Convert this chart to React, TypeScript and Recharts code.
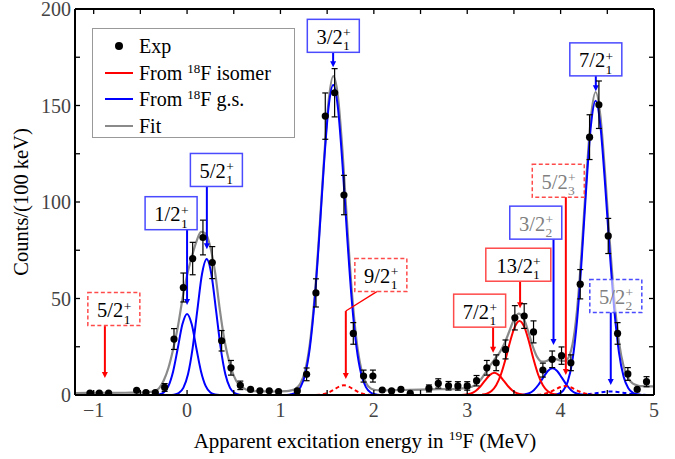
import React from 'react'
import {
  ComposedChart,
  Line,
  Scatter,
  XAxis,
  YAxis,
  ErrorBar,
  ReferenceLine,
  ReferenceDot,
} from 'recharts'

const FONT = '"Liberation Serif", "Times New Roman", serif'

// measured spectrum (energy in MeV, counts per 100 keV, statistical error)
const expEnergy = [
  -1.04, -0.94, -0.84, -0.54, -0.44, -0.34, -0.24, -0.14, -0.04, 0.06, 0.17, 0.27, 0.37, 0.47,
  0.57, 0.68, 0.78, 0.88, 0.98, 1.18, 1.28, 1.38, 1.48, 1.58, 1.68, 1.78, 1.89, 1.99, 2.09, 2.19,
  2.29, 2.39, 2.59, 2.69, 2.8, 2.9, 3.0, 3.1, 3.21, 3.31, 3.41, 3.51, 3.61, 3.71, 3.81, 3.91,
  4.01, 4.11, 4.21, 4.31, 4.41, 4.51, 4.61, 4.72, 4.82, 4.92,
]
const expCounts = [
  1, 1, 1, 2.4, 1.3, 1.3, 3.9, 29, 55.7, 70.7, 81.6, 68.6, 28.1, 14.1, 5, 2.9, 2.2, 2.2, 1.7, 2.1,
  10.7, 52.9, 144.5, 156.6, 103.6, 31.9, 9.8, 9.8, 2.6, 2.1, 2.9, 0.9, 3.4, 6, 4.8, 4.7, 4.7, 7.4,
  14.1, 16.7, 23.6, 40, 40.9, 32.7, 12.9, 18.5, 20.4, 16.7, 57.4, 133.6, 150.4, 82.4, 31.9, 10.9,
  2.9, 6.9,
]
const expErr = [
  0, 0, 0, 0, 0, 0, 2, 5.4, 7.5, 8.4, 9, 8.3, 5.3, 3.8, 2.2, 0, 0, 0, 0, 0, 3.3, 7.3, 12, 12.5,
  10.2, 5.6, 3.1, 3.1, 0, 0, 0, 0, 1.8, 2.4, 2.2, 2.2, 2.2, 2.7, 3.8, 4.1, 4.9, 6.3, 6.4, 5.7, 3.6,
  4.3, 4.5, 4.1, 7.6, 11.6, 12.3, 9.1, 5.6, 3.3, 0, 2.6,
]

// total fit (grey)
const fitCurve = [
  [-1.2, 1.0], [-0.9, 1.1], [-0.6, 1.2], [-0.45, 1.4], [-0.4, 1.6], [-0.35, 2.1], [-0.3, 3.5],
  [-0.25, 7.5], [-0.2, 14], [-0.15, 23.5], [-0.1, 35], [-0.05, 49.5], [0, 62], [0.05, 71.5],
  [0.1, 79.5], [0.15, 84.5], [0.2, 83.6], [0.25, 76.5], [0.3, 63.5], [0.35, 44.5], [0.4, 28.5],
  [0.45, 17.5], [0.5, 10], [0.55, 5.5], [0.6, 3.7], [0.65, 2.5], [0.7, 2.0], [0.9, 1.8],
  [1.065, 2.0], [1.115, 2.4], [1.165, 3.3], [1.215, 6.1], [1.265, 12.8], [1.315, 26.6],
  [1.365, 50.3], [1.415, 83.7], [1.465, 121], [1.515, 152], [1.565, 165.2], [1.615, 155],
  [1.665, 126], [1.715, 88], [1.765, 53.3], [1.815, 28.2], [1.865, 13.5], [1.915, 6.3],
  [1.965, 3.4], [2.015, 2.6], [2.065, 2.4], [2.3, 2.6], [2.5, 2.8], [2.7, 3.0], [2.9, 3.2],
  [2.95, 3.4], [3.0, 3.7], [3.05, 4.3], [3.1, 5.7], [3.15, 8.3], [3.2, 11.9], [3.25, 15.6],
  [3.3, 18.9], [3.35, 22.2], [3.4, 26.8], [3.45, 32.9], [3.5, 39.1], [3.55, 42.2], [3.6, 40.1],
  [3.65, 33.5], [3.7, 25.5], [3.75, 19.6], [3.8, 17.3], [3.85, 17.6], [3.9, 18.7], [3.95, 18.6],
  [4.0, 17.8], [4.05, 17.7], [4.1, 21.2], [4.15, 33], [4.175, 43.6], [4.225, 74.4], [4.275, 112],
  [4.325, 144], [4.375, 157], [4.425, 145], [4.475, 115.4], [4.525, 80.6], [4.575, 49.6],
  [4.625, 27.5], [4.675, 14.8], [4.725, 8.5], [4.775, 5.9], [4.825, 4.9], [4.875, 4.55],
  [4.925, 4.5], [5.0, 4.5],
]

// components populated from the 18F ground state (blue)
const gs12 = [
  [-0.35, 0.05], [-0.3, 0.3], [-0.25, 1.3], [-0.2, 4.6], [-0.15, 12.1], [-0.1, 24.1], [-0.05, 36.6],
  [0, 42], [0.05, 36.6], [0.1, 24.1], [0.15, 12.1], [0.2, 4.6], [0.25, 1.3], [0.3, 0.3], [0.35, 0.05],
]
const gs52 = [
  [-0.19, 0], [-0.14, 0.2], [-0.09, 1.0], [-0.04, 3.7], [0.01, 10.7], [0.06, 24.4], [0.11, 44],
  [0.16, 62.7], [0.21, 70.5], [0.26, 62.7], [0.31, 44], [0.36, 24.4], [0.41, 10.7], [0.46, 3.7],
  [0.51, 1.0], [0.56, 0.2], [0.61, 0],
]
const gs32 = [
  [1.065, 0], [1.115, 0.4], [1.165, 1.3], [1.215, 4.1], [1.265, 10.8], [1.315, 24.6], [1.365, 48.3],
  [1.415, 81.7], [1.465, 119], [1.515, 149], [1.565, 160.6], [1.615, 149], [1.665, 119],
  [1.715, 81.7], [1.765, 48.3], [1.815, 24.6], [1.865, 10.8], [1.915, 4.1], [1.965, 1.3],
  [2.015, 0.4], [2.065, 0],
]
const gs32b = [
  [3.563, 0.1], [3.613, 0.3], [3.663, 0.9], [3.713, 2.5], [3.763, 5.3], [3.813, 9.0], [3.863, 12.4],
  [3.913, 13.8], [3.963, 12.4], [4.013, 9.0], [4.063, 5.3], [4.113, 2.5], [4.163, 0.9],
  [4.213, 0.3], [4.263, 0.1],
]
const gs72 = [
  [3.925, 0.1], [3.975, 0.6], [4.025, 2.2], [4.075, 6.7], [4.125, 17.4], [4.175, 38],
  [4.225, 69.8], [4.275, 107.8], [4.325, 139.8], [4.375, 152.5], [4.425, 140], [4.475, 110],
  [4.525, 75], [4.575, 44], [4.625, 22], [4.675, 9.5], [4.725, 3.5], [4.775, 1.1], [4.825, 0.3],
  [4.875, 0],
]
const gs52b = [
  [4.14, 0], [4.19, 0.08], [4.24, 0.18], [4.29, 0.37], [4.34, 0.65], [4.39, 1.0], [4.44, 1.4],
  [4.49, 1.69], [4.54, 1.8], [4.59, 1.69], [4.64, 1.4], [4.69, 1.0], [4.74, 0.65], [4.79, 0.37],
  [4.84, 0.18], [4.89, 0.08], [4.94, 0],
]

// components populated from the 18F isomer (red)
const iso92 = [
  [1.38, 0.05], [1.43, 0.2], [1.48, 0.7], [1.53, 1.6], [1.58, 3.0], [1.63, 4.4], [1.68, 5],
  [1.73, 4.4], [1.78, 3.0], [1.83, 1.6], [1.88, 0.7], [1.93, 0.2], [1.98, 0.05],
]
const iso72 = [
  [2.94, 0.06], [2.99, 0.24], [3.04, 0.8], [3.09, 2.1], [3.14, 4.4], [3.19, 7.5], [3.24, 10.3],
  [3.29, 11.5], [3.34, 10.3], [3.39, 7.5], [3.44, 4.4], [3.49, 2.1], [3.54, 0.8], [3.59, 0.24],
  [3.64, 0.06],
]
const iso132 = [
  [3.16, 0.2], [3.21, 0.7], [3.26, 2.1], [3.31, 5.1], [3.36, 10.5], [3.41, 18.5], [3.46, 27.8],
  [3.51, 35.4], [3.56, 38.4], [3.61, 35.4], [3.66, 27.8], [3.71, 18.5], [3.76, 10.5], [3.81, 5.1],
  [3.86, 2.1], [3.91, 0.7], [3.96, 0.2],
]
const iso52 = [
  [3.75, 0.1], [3.8, 0.35], [3.85, 0.9], [3.9, 1.8], [3.95, 3.05], [4.0, 4.15], [4.05, 4.6],
  [4.1, 4.15], [4.15, 3.05], [4.2, 1.8], [4.25, 0.9], [4.3, 0.35], [4.35, 0.1],
]

const xTicks = [-1, -0.5, 0, 0.5, 1, 1.5, 2, 2.5, 3, 3.5, 4, 4.5, 5]
const yTicks = [0, 25, 50, 75, 100, 125, 150, 175, 200]

// state labels: box centre (bx, by), arrow at ax from a0 down to a1 (data units)
const stateLabels = [
  { j: '5/2', n: '1', c: 'red', dashed: true, grey: false, bx: -0.784, by: 44.5, ax: -0.88, a0: 35.7, a1: 8.8 },
  { j: '1/2', n: '1', c: 'blue', dashed: false, grey: false, bx: -0.171, by: 94.2, ax: 0.0, a0: 85.7, a1: 46.6 },
  { j: '5/2', n: '1', c: 'blue', dashed: false, grey: false, bx: 0.314, by: 116.6, ax: 0.212, a0: 108.1, a1: 75.5 },
  { j: '3/2', n: '1', c: 'blue', dashed: false, grey: false, bx: 1.566, by: 186.1, ax: 1.564, a0: 177.6, a1: 169.8 },
  { j: '9/2', n: '1', c: 'red', dashed: true, grey: false, bx: 2.075, by: 62.2, ax: 1.7, a0: 43.5, a1: 8.3 },
  { j: '7/2', n: '1', c: 'red', dashed: false, grey: false, bx: 3.133, by: 43.7, ax: 3.277, a0: 35.2, a1: 21.9 },
  { j: '13/2', n: '1', c: 'red', dashed: false, grey: false, bx: 3.547, by: 67.5, ax: 3.566, a0: 58.6, a1: 44.9 },
  { j: '3/2', n: '2', c: 'blue', dashed: false, grey: true, bx: 3.734, by: 89.3, ax: 3.924, a0: 80.7, a1: 25.9 },
  { j: '5/2', n: '3', c: 'red', dashed: true, grey: true, bx: 3.975, by: 111, ax: 4.056, a0: 102.6, a1: 10.3 },
  { j: '7/2', n: '1', c: 'blue', dashed: false, grey: false, bx: 4.377, by: 173.9, ax: 4.377, a0: 165.4, a1: 157.4 },
  { j: '5/2', n: '2', c: 'blue', dashed: true, grey: true, bx: 4.591, by: 51.3, ax: 4.537, a0: 42.8, a1: 5.2 },
]
// bent leader of the 9/2 label
const leader92 = [
  { x: 2.04, y: 53.8 },
  { x: 1.7, y: 43.5 },
]

const expPoints = expEnergy.map((x, i) => ({ x, y: expCounts[i], err: expErr[i] }))
const pts = (arr: number[][]) => arr.map(([x, y]) => ({ x, y }))

const RED = '#ff0000'
const BLUE = '#0000ff'
const GREY = '#8a8a8a'
const BOX_COL: any = { red: '#ff4a4a', blue: '#4a4aff' }
const LINE_COL: any = { red: RED, blue: BLUE }

const fmt = (v: number) => (v < 0 ? '\u2212' + Math.abs(v) : String(v))

const BottomTick = (props: any) => {
  const { x, y, payload } = props
  const v = payload.value
  const major = Number.isInteger(v)
  return (
    <g>
      <line x1={x} x2={x} y1={y} y2={y - 5} stroke="#000" strokeWidth={1.3} />
      {major && (
        <text x={x} y={y + 22} textAnchor="middle" fontSize={20} fill="#444" fontFamily={FONT}>
          {fmt(v)}
        </text>
      )}
    </g>
  )
}
const TopTick = (props: any) => {
  const { x, y } = props
  return <line x1={x} x2={x} y1={y} y2={y + 5} stroke="#000" strokeWidth={1.3} />
}
const LeftTick = (props: any) => {
  const { x, y, payload } = props
  const v = payload.value
  return (
    <g>
      <line x1={x} x2={x + 5} y1={y} y2={y} stroke="#000" strokeWidth={1.3} />
      {v % 50 === 0 && (
        <text x={x - 4} y={y + 7} textAnchor="end" fontSize={20} fill="#444" fontFamily={FONT}>
          {v}
        </text>
      )}
    </g>
  )
}
const RightTick = (props: any) => {
  const { x, y } = props
  return <line x1={x} x2={x - 5} y1={y} y2={y} stroke="#000" strokeWidth={1.3} />
}

const StateBox = ({ cx, cy, s }: any) => {
  const mainW = s.j.length === 4 ? 35.6 : 25.6
  const w = s.j.length === 4 ? 65 : 52
  const h = 33
  const start = cx - (mainW + 8) / 2
  const txt = s.grey ? '#808080' : '#000'
  return (
    <g>
      <rect
        x={cx - w / 2}
        y={cy - h / 2}
        width={w}
        height={h}
        fill="#fff"
        fillOpacity={0.6}
        stroke={BOX_COL[s.c]}
        strokeWidth={1.5}
        strokeDasharray={s.dashed ? '4 2.5' : undefined}
      />
      <text fontFamily={FONT} fill={txt}>
        <tspan x={start} y={cy + 8} fontSize={20.5}>
          {s.j}
        </tspan>
        <tspan x={start + mainW + 1} y={cy + 1.5} fontSize={13.5}>
          +
        </tspan>
        <tspan x={start + mainW + 1} y={cy + 14.5} fontSize={13.5}>
          {s.n}
        </tspan>
      </text>
    </g>
  )
}

const Arrow = (p: any) => {
  const { x1, y1, x2, y2, color, head } = p
  return (
    <g>
      <line x1={x1} y1={y1} x2={x2} y2={head ? y2 - 4 : y2} stroke={color} strokeWidth={head ? 2 : 1.3} />
      {head && <polygon points={`${x2 - 3},${y2 - 6} ${x2 + 3},${y2 - 6} ${x2},${y2}`} fill={color} />}
    </g>
  )
}

const Dot = (p: any) => <circle cx={p.cx} cy={p.cy} r={3.6} fill="#000" />

const legendRows = [
  { label: 'Exp', kind: 'dot', color: '#000' },
  { label: 'isomer', kind: 'line', color: RED },
  { label: 'g.s.', kind: 'line', color: BLUE },
  { label: 'Fit', kind: 'line', color: GREY },
]

function App() {
  return (
    <div style={{ position: 'absolute', left: 0, top: 0, width: 675, height: 459, background: '#fff', fontFamily: FONT }}>
      <ComposedChart width={675} height={459} margin={{ top: 0, right: 0, bottom: 0, left: 0 }}>
        <XAxis
          xAxisId="b"
          type="number"
          dataKey="x"
          domain={[-1.2, 5]}
          ticks={xTicks}
          interval={0}
          allowDataOverflow
          height={64}
          tickSize={0}
          tickMargin={0}
          tick={<BottomTick />}
          axisLine={{ stroke: '#000', strokeWidth: 2 }}
        />
        <XAxis
          xAxisId="t"
          orientation="top"
          type="number"
          dataKey="x"
          domain={[-1.2, 5]}
          ticks={xTicks}
          interval={0}
          allowDataOverflow
          height={9}
          tickSize={0}
          tickMargin={0}
          tick={<TopTick />}
          axisLine={{ stroke: '#000', strokeWidth: 2 }}
        />
        <YAxis
          yAxisId="l"
          type="number"
          dataKey="y"
          domain={[0, 200]}
          ticks={yTicks}
          interval={0}
          allowDataOverflow
          width={75}
          tickSize={0}
          tickMargin={0}
          tick={<LeftTick />}
          axisLine={{ stroke: '#000', strokeWidth: 2 }}
        />
        <YAxis
          yAxisId="r"
          orientation="right"
          type="number"
          dataKey="y"
          domain={[0, 200]}
          ticks={yTicks}
          interval={0}
          allowDataOverflow
          width={21}
          tickSize={0}
          tickMargin={0}
          tick={<RightTick />}
          axisLine={{ stroke: '#000', strokeWidth: 2 }}
        />

        <Line xAxisId="b" yAxisId="l" data={pts(fitCurve)} dataKey="y" type="monotone" stroke={GREY} strokeWidth={2.2} dot={false} isAnimationActive={false} />

        <Line xAxisId="b" yAxisId="l" data={pts(gs12)} dataKey="y" type="monotone" stroke={BLUE} strokeWidth={2} dot={false} isAnimationActive={false} />
        <Line xAxisId="b" yAxisId="l" data={pts(gs52)} dataKey="y" type="monotone" stroke={BLUE} strokeWidth={2} dot={false} isAnimationActive={false} />
        <Line xAxisId="b" yAxisId="l" data={pts(gs32)} dataKey="y" type="monotone" stroke={BLUE} strokeWidth={2} dot={false} isAnimationActive={false} />
        <Line xAxisId="b" yAxisId="l" data={pts(gs32b)} dataKey="y" type="monotone" stroke={BLUE} strokeWidth={2} dot={false} isAnimationActive={false} />
        <Line xAxisId="b" yAxisId="l" data={pts(gs72)} dataKey="y" type="monotone" stroke={BLUE} strokeWidth={2} dot={false} isAnimationActive={false} />
        <Line xAxisId="b" yAxisId="l" data={pts(gs52b)} dataKey="y" type="monotone" stroke={BLUE} strokeWidth={2} strokeDasharray="4 3" dot={false} isAnimationActive={false} />

        <Line xAxisId="b" yAxisId="l" data={pts(iso92)} dataKey="y" type="monotone" stroke={RED} strokeWidth={2} strokeDasharray="4 3" dot={false} isAnimationActive={false} />
        <Line xAxisId="b" yAxisId="l" data={pts(iso72)} dataKey="y" type="monotone" stroke={RED} strokeWidth={2} dot={false} isAnimationActive={false} />
        <Line xAxisId="b" yAxisId="l" data={pts(iso132)} dataKey="y" type="monotone" stroke={RED} strokeWidth={2} dot={false} isAnimationActive={false} />
        <Line xAxisId="b" yAxisId="l" data={pts(iso52)} dataKey="y" type="monotone" stroke={RED} strokeWidth={2} strokeDasharray="4 3" dot={false} isAnimationActive={false} />

        <ReferenceLine
          xAxisId="b"
          yAxisId="l"
          segment={leader92}
          shape={(p: any) => <Arrow {...p} color={RED} head={false} />}
        />
        {stateLabels.map((s, i) => (
          <ReferenceLine
            key={'a' + i}
            xAxisId="b"
            yAxisId="l"
            segment={[
              { x: s.ax, y: s.a0 },
              { x: s.ax, y: s.a1 },
            ]}
            shape={(p: any) => <Arrow {...p} color={LINE_COL[s.c]} head />}
          />
        ))}
        {stateLabels.map((s, i) => (
          <ReferenceDot
            key={'b' + i}
            xAxisId="b"
            yAxisId="l"
            x={s.bx}
            y={s.by}
            ifOverflow="visible"
            shape={(p: any) => <StateBox cx={p.cx} cy={p.cy} s={s} />}
          />
        ))}

        <Scatter xAxisId="b" yAxisId="l" data={expPoints} dataKey="y" shape={<Dot />} isAnimationActive={false}>
          <ErrorBar dataKey="err" direction="y" width={3} stroke="#000" strokeWidth={1.2} />
        </Scatter>
      </ComposedChart>

      <svg width={675} height={459} style={{ position: 'absolute', left: 0, top: 0, pointerEvents: 'none' }}>
        <text
          transform="translate(28, 202) rotate(-90)"
          textAnchor="middle"
          fontSize={20.5}
          fontFamily={FONT}
          fill="#000"
        >
          Counts/(100 keV)
        </text>
        <text x={365} y={448} textAnchor="middle" fontSize={21} fontFamily={FONT} fill="#000">
          Apparent excitation energy in{' '}
          <tspan fontSize={13.5} dy={-8}>
            19
          </tspan>
          <tspan dy={8}>F (MeV)</tspan>
        </text>
      </svg>

      <div
        style={{
          position: 'absolute',
          left: 92,
          top: 28,
          width: 203,
          height: 110,
          boxSizing: 'border-box',
          border: '1px solid #999',
          background: '#fff',
          fontSize: 20,
          color: '#000',
        }}
      >
        {legendRows.map((r, i) => (
          <div key={r.label} style={{ position: 'absolute', left: 0, top: 4 + i * 26.5, height: 26, width: 200 }}>
            {r.kind === 'dot' ? (
              <div style={{ position: 'absolute', left: 22, top: 9, width: 8, height: 8, borderRadius: 4, background: r.color }} />
            ) : (
              <div style={{ position: 'absolute', left: 12, top: 12, width: 28, height: 2, background: r.color }} />
            )}
            <div style={{ position: 'absolute', left: 46, top: 0, lineHeight: '26px', whiteSpace: 'nowrap' }}>
              {r.label === 'Exp' || r.label === 'Fit' ? (
                r.label
              ) : (
                <>
                  From <sup style={{ fontSize: 13, verticalAlign: 0, position: 'relative', top: -7 }}>18</sup>F {r.label}
                </>
              )}
            </div>
          </div>
        ))}
      </div>
    </div>
  )
}

export default App
